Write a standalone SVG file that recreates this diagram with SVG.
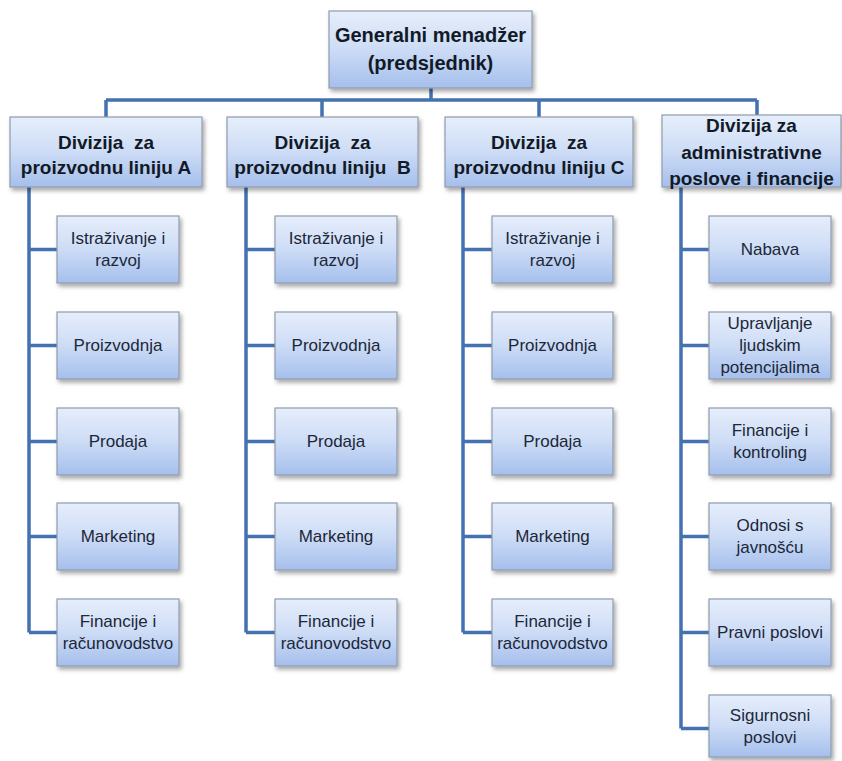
<svg xmlns="http://www.w3.org/2000/svg" width="842" height="761" viewBox="0 0 842 761">
<defs>
<linearGradient id="g" x1="0" y1="0" x2="0" y2="1">
<stop offset="0" stop-color="#e6eefb"/>
<stop offset="0.5" stop-color="#cddcf6"/>
<stop offset="1" stop-color="#a5bfec"/>
</linearGradient>
<filter id="sh" x="-10%" y="-10%" width="130%" height="140%">
<feDropShadow dx="2" dy="3" stdDeviation="2" flood-color="#000" flood-opacity="0.35"/>
</filter>
<style>
.b{fill:url(#g);stroke:#8f9cae;stroke-width:1.2;filter:url(#sh)}
.c{fill:none;stroke:#4472b0;stroke-width:3.5}
text{font-family:"Liberation Sans",Arial,sans-serif;fill:#1c2738;text-anchor:middle;white-space:pre}
.h{font-weight:bold;font-size:19px;fill:#111a26}
.t{font-weight:bold;font-size:20px;fill:#111a26}
.s{font-size:17px}
</style>
</defs>
<rect width="842" height="761" fill="#ffffff"/>
<g id="connectors">
<path class="c" d="M431 88V100M106 100H757M106 100V117M322 100V117M539 100V117M757 100V115"/>
<path class="c" d="M29 187V632.5M29 249.5H57M29 345.5H57M29 441.5H57M29 536.5H57M29 632.5H57"/>
<path class="c" d="M246 187V632.5M246 249.5H275M246 345.5H275M246 441.5H275M246 536.5H275M246 632.5H275"/>
<path class="c" d="M463 187V632.5M463 249.5H492M463 345.5H492M463 441.5H492M463 536.5H492M463 632.5H492"/>
<path class="c" d="M681 187V728.5M681 249.5H709M681 345.5H709M681 441.5H709M681 536.5H709M681 632.5H709M681 728.5H709"/>
</g>
<g id="gm"><rect class="b" x="329" y="11" width="203" height="77"/><text class="t" x="430.5" y="42">Generalni menadžer</text><text class="t" x="430.5" y="70">(predsjednik)</text></g>
<g id="divA"><rect class="b" x="10" y="117" width="192" height="70"/><text class="h" x="106" y="149" xml:space="preserve">Divizija  za</text><text class="h" x="106" y="174">proizvodnu liniju A</text></g>
<g id="divB"><rect class="b" x="227" y="117" width="191" height="70"/><text class="h" x="322.5" y="149" xml:space="preserve">Divizija  za</text><text class="h" x="322.5" y="174" xml:space="preserve">proizvodnu liniju  B</text></g>
<g id="divC"><rect class="b" x="445" y="117" width="188" height="70"/><text class="h" x="539" y="149" xml:space="preserve">Divizija  za</text><text class="h" x="539" y="174">proizvodnu liniju C</text></g>
<g id="divD"><rect class="b" x="662" y="115" width="179" height="72"/><text class="h" x="751.5" y="132">Divizija za</text><text class="h" x="751.5" y="159">administrativne</text><text class="h" x="751.5" y="185">poslove i financije</text></g>
<g id="a1"><rect class="b" x="57" y="216" width="122" height="67"/><text class="s" x="118" y="244">Istraživanje i</text><text class="s" x="118" y="266">razvoj</text></g>
<g id="a2"><rect class="b" x="57" y="312" width="122" height="67"/><text class="s" x="118" y="351">Proizvodnja</text></g>
<g id="a3"><rect class="b" x="57" y="408" width="122" height="67"/><text class="s" x="118" y="447">Prodaja</text></g>
<g id="a4"><rect class="b" x="57" y="503" width="122" height="67"/><text class="s" x="118" y="542">Marketing</text></g>
<g id="a5"><rect class="b" x="57" y="599" width="122" height="67"/><text class="s" x="118" y="627">Financije i</text><text class="s" x="118" y="649">računovodstvo</text></g>
<g id="b1"><rect class="b" x="275" y="216" width="122" height="67"/><text class="s" x="336" y="244">Istraživanje i</text><text class="s" x="336" y="266">razvoj</text></g>
<g id="b2"><rect class="b" x="275" y="312" width="122" height="67"/><text class="s" x="336" y="351">Proizvodnja</text></g>
<g id="b3"><rect class="b" x="275" y="408" width="122" height="67"/><text class="s" x="336" y="447">Prodaja</text></g>
<g id="b4"><rect class="b" x="275" y="503" width="122" height="67"/><text class="s" x="336" y="542">Marketing</text></g>
<g id="b5"><rect class="b" x="275" y="599" width="122" height="67"/><text class="s" x="336" y="627">Financije i</text><text class="s" x="336" y="649">računovodstvo</text></g>
<g id="c1"><rect class="b" x="492" y="216" width="121" height="67"/><text class="s" x="552.5" y="244">Istraživanje i</text><text class="s" x="552.5" y="266">razvoj</text></g>
<g id="c2"><rect class="b" x="492" y="312" width="121" height="67"/><text class="s" x="552.5" y="351">Proizvodnja</text></g>
<g id="c3"><rect class="b" x="492" y="408" width="121" height="67"/><text class="s" x="552.5" y="447">Prodaja</text></g>
<g id="c4"><rect class="b" x="492" y="503" width="121" height="67"/><text class="s" x="552.5" y="542">Marketing</text></g>
<g id="c5"><rect class="b" x="492" y="599" width="121" height="67"/><text class="s" x="552.5" y="627">Financije i</text><text class="s" x="552.5" y="649">računovodstvo</text></g>
<g id="d1"><rect class="b" x="709" y="216" width="122" height="67"/><text class="s" x="770" y="255">Nabava</text></g>
<g id="d2"><rect class="b" x="709" y="312" width="122" height="67"/><text class="s" x="770" y="329">Upravljanje</text><text class="s" x="770" y="351">ljudskim</text><text class="s" x="770" y="373">potencijalima</text></g>
<g id="d3"><rect class="b" x="709" y="408" width="122" height="67"/><text class="s" x="770" y="436">Financije i</text><text class="s" x="770" y="458">kontroling</text></g>
<g id="d4"><rect class="b" x="709" y="503" width="122" height="67"/><text class="s" x="770" y="531">Odnosi s</text><text class="s" x="770" y="553">javnošću</text></g>
<g id="d5"><rect class="b" x="709" y="599" width="122" height="67"/><text class="s" x="770" y="638">Pravni poslovi</text></g>
<g id="d6"><rect class="b" x="709" y="695" width="122" height="62"/><text class="s" x="770" y="721">Sigurnosni</text><text class="s" x="770" y="743">poslovi</text></g>
</svg>
